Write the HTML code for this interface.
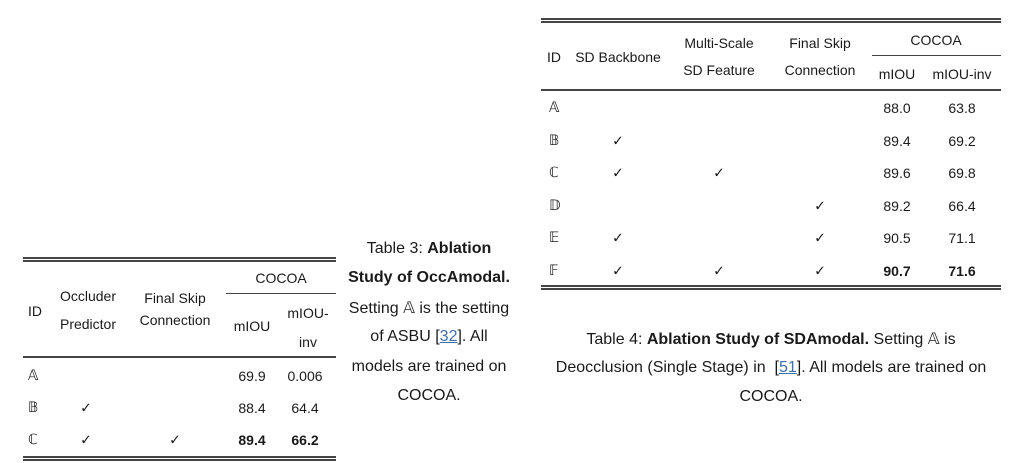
<!DOCTYPE html>
<html><head><meta charset="utf-8"><style>
body{margin:0;width:1024px;height:463px;background:#fff;position:relative;overflow:hidden;font-family:"Liberation Sans","DejaVu Sans",sans-serif;color:#1a1a1a}
.t{position:absolute;font-size:14px;white-space:nowrap;transform:translate(-50%,-50%)}
.l{position:absolute;font-size:14px;white-space:nowrap;transform:translateY(-50%)}
.c{position:absolute;font-size:16px;white-space:nowrap;transform:translate(-50%,-50%)}
.r{position:absolute;background:#444}
b{font-weight:bold}
.ds{font-family:"DejaVu Sans",sans-serif}
a{color:#3a6fb0;text-decoration:underline}
</style></head><body>
<!-- Table 3 -->
<div class="r" style="left:23px;top:257px;width:313px;height:1.5px"></div>
<div class="r" style="left:23px;top:260px;width:313px;height:1.5px"></div>
<div class="t" style="left:281px;top:278px">COCOA</div>
<div class="r" style="left:226px;top:293px;width:110px;height:1px"></div>
<div class="l" style="left:28px;top:311px">ID</div>
<div class="t" style="left:88px;top:296px">Occluder</div>
<div class="t" style="left:88px;top:324px">Predictor</div>
<div class="t" style="left:175px;top:298px">Final Skip</div>
<div class="t" style="left:175px;top:320px">Connection</div>
<div class="t" style="left:252px;top:326px">mIOU</div>
<div class="t" style="left:308px;top:313px">mIOU-</div>
<div class="t" style="left:308px;top:342px">inv</div>
<div class="r" style="left:23px;top:356px;width:313px;height:1.5px"></div>
<div class="l ds" style="left:28px;top:376px">𝔸</div>
<div class="t" style="left:252px;top:376px">69.9</div>
<div class="t" style="left:305px;top:376px">0.006</div>
<div class="l ds" style="left:28px;top:408px">𝔹</div>
<div class="t" style="left:86px;top:408px">✓</div>
<div class="t" style="left:252px;top:408px">88.4</div>
<div class="t" style="left:305px;top:408px">64.4</div>
<div class="l ds" style="left:28px;top:440px">ℂ</div>
<div class="t" style="left:86px;top:440px">✓</div>
<div class="t" style="left:175px;top:440px">✓</div>
<div class="t" style="left:252px;top:440px"><b>89.4</b></div>
<div class="t" style="left:305px;top:440px"><b>66.2</b></div>
<div class="r" style="left:23px;top:456px;width:313px;height:1.5px"></div>
<div class="r" style="left:23px;top:459px;width:313px;height:1.5px"></div>
<!-- Caption 3 -->
<div class="c" style="left:429px;top:249px">Table 3: <b>Ablation</b></div>
<div class="c" style="left:429px;top:278px"><b>Study of OccAmodal.</b></div>
<div class="c" style="left:429px;top:308px">Setting <span class="ds">𝔸</span> is the setting</div>
<div class="c" style="left:429px;top:337px">of ASBU [<a>32</a>]. All</div>
<div class="c" style="left:429px;top:367px">models are trained on</div>
<div class="c" style="left:429px;top:396px">COCOA.</div>
<!-- Table 4 -->
<div class="r" style="left:541px;top:18px;width:460px;height:1.5px"></div>
<div class="r" style="left:541px;top:21px;width:460px;height:1.5px"></div>
<div class="l" style="left:547px;top:57px">ID</div>
<div class="t" style="left:618px;top:57px">SD Backbone</div>
<div class="t" style="left:719px;top:43px">Multi-Scale</div>
<div class="t" style="left:719px;top:70px">SD Feature</div>
<div class="t" style="left:820px;top:43px">Final Skip</div>
<div class="t" style="left:820px;top:70px">Connection</div>
<div class="t" style="left:936px;top:40px">COCOA</div>
<div class="r" style="left:872px;top:55px;width:129px;height:1px"></div>
<div class="t" style="left:897px;top:74px">mIOU</div>
<div class="t" style="left:962px;top:74px">mIOU-inv</div>
<div class="r" style="left:541px;top:89px;width:460px;height:1.5px"></div>

<div class="l ds" style="left:549px;top:108px">𝔸</div>
<div class="t" style="left:897px;top:108px">88.0</div><div class="t" style="left:962px;top:108px">63.8</div>

<div class="l ds" style="left:549px;top:141px">𝔹</div>
<div class="t" style="left:618px;top:141px">✓</div>
<div class="t" style="left:897px;top:141px">89.4</div><div class="t" style="left:962px;top:141px">69.2</div>

<div class="l ds" style="left:549px;top:173px">ℂ</div>
<div class="t" style="left:618px;top:173px">✓</div><div class="t" style="left:719px;top:173px">✓</div>
<div class="t" style="left:897px;top:173px">89.6</div><div class="t" style="left:962px;top:173px">69.8</div>

<div class="l ds" style="left:549px;top:206px">𝔻</div>
<div class="t" style="left:820px;top:206px">✓</div>
<div class="t" style="left:897px;top:206px">89.2</div><div class="t" style="left:962px;top:206px">66.4</div>

<div class="l ds" style="left:549px;top:238px">𝔼</div>
<div class="t" style="left:618px;top:238px">✓</div><div class="t" style="left:820px;top:238px">✓</div>
<div class="t" style="left:897px;top:238px">90.5</div><div class="t" style="left:962px;top:238px">71.1</div>

<div class="l ds" style="left:549px;top:271px">𝔽</div>
<div class="t" style="left:618px;top:271px">✓</div><div class="t" style="left:719px;top:271px">✓</div><div class="t" style="left:820px;top:271px">✓</div>
<div class="t" style="left:897px;top:271px"><b>90.7</b></div><div class="t" style="left:962px;top:271px"><b>71.6</b></div>
<div class="r" style="left:541px;top:285px;width:460px;height:1.5px"></div>
<div class="r" style="left:541px;top:288px;width:460px;height:1.5px"></div>
<!-- Caption 4 -->
<div class="c" style="left:771px;top:339px">Table 4: <b>Ablation Study of SDAmodal.</b> Setting <span class="ds">𝔸</span> is</div>
<div class="c" style="left:771px;top:368px">Deocclusion (Single Stage) in &nbsp;[<a>51</a>]. All models are trained on</div>
<div class="c" style="left:771px;top:397px">COCOA.</div>
</body></html>
